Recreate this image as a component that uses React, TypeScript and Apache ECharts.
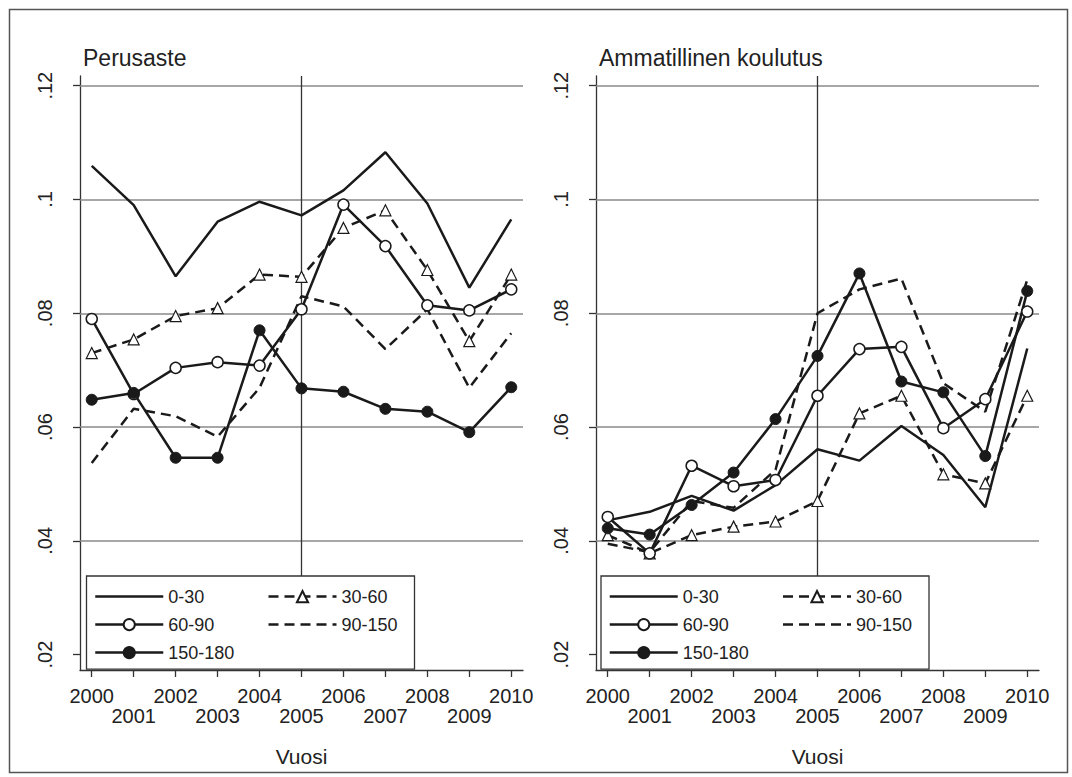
import React, { useEffect, useRef } from "react";
import * as echarts from "echarts";

const years = [2000, 2001, 2002, 2003, 2004, 2005, 2006, 2007, 2008, 2009, 2010];
const evenYears = [2000, 2002, 2004, 2006, 2008, 2010];
const oddYears = [2001, 2003, 2005, 2007, 2009];
const yTicks = [0.02, 0.04, 0.06, 0.08, 0.1, 0.12];
const gridValues = [0.04, 0.06, 0.08, 0.1, 0.12];
const markYear = 2005;

const panelTitles = ["Perusaste", "Ammatillinen koulutus"];
const seriesNames = ["0-30", "30-60", "60-90", "90-150", "150-180"];

// Perusaste
const p0_30 = [0.1059, 0.099, 0.0865, 0.0961, 0.0996, 0.0972, 0.1016, 0.1083, 0.0993, 0.0845, 0.0965];
const p30_60 = [0.073, 0.0754, 0.0795, 0.0809, 0.0868, 0.0864, 0.095, 0.0981, 0.0876, 0.0751, 0.0868];
const p60_90 = [0.079, 0.0658, 0.0704, 0.0714, 0.0708, 0.0807, 0.0991, 0.0918, 0.0814, 0.0805, 0.0842];
const p90_150 = [0.0537, 0.0632, 0.0619, 0.0583, 0.0669, 0.083, 0.0812, 0.0737, 0.0807, 0.0669, 0.0765];
const p150_180 = [0.0648, 0.066, 0.0546, 0.0546, 0.077, 0.0668, 0.0662, 0.0632, 0.0627, 0.0591, 0.067];

// Ammatillinen koulutus
const a0_30 = [0.0436, 0.0451, 0.0479, 0.0453, 0.0498, 0.0561, 0.0541, 0.0602, 0.0551, 0.0459, 0.0738];
const a30_60 = [0.041, 0.0378, 0.041, 0.0425, 0.0434, 0.047, 0.0624, 0.0655, 0.0517, 0.0501, 0.0655];
const a60_90 = [0.0442, 0.0378, 0.0532, 0.0496, 0.0507, 0.0655, 0.0737, 0.0741, 0.0598, 0.0649, 0.0803];
const a90_150 = [0.0395, 0.038, 0.047, 0.0458, 0.0525, 0.08, 0.0842, 0.0861, 0.0677, 0.0627, 0.0859];
const a150_180 = [0.0422, 0.0411, 0.0463, 0.052, 0.0614, 0.0725, 0.087, 0.068, 0.0661, 0.0549, 0.0839];

const panelData = [
  [p0_30, p30_60, p60_90, p90_150, p150_180],
  [a0_30, a30_60, a60_90, a90_150, a150_180],
];

const FONT = "'Liberation Sans', Arial, Helvetica, sans-serif";
const INK = "#1a1a1a";
const TXT = "#222";

function styleFor(i: number) {
  const dash = [10, 6];
  switch (i) {
    case 0:
      return {
        symbol: "none",
        itemStyle: { color: INK, opacity: 0 },
        lineStyle: { color: INK, width: 2.5, type: "solid", opacity: 1 },
      };
    case 1:
      return {
        symbol: "triangle",
        symbolSize: 11,
        itemStyle: { color: "#fff", borderColor: INK, borderWidth: 1.2 },
        lineStyle: { color: INK, width: 2.5, type: dash },
      };
    case 2:
      return {
        symbol: "circle",
        symbolSize: 11,
        itemStyle: { color: "#fff", borderColor: INK, borderWidth: 1.5 },
        lineStyle: { color: INK, width: 2.5, type: "solid" },
      };
    case 3:
      return {
        symbol: "none",
        itemStyle: { color: INK, opacity: 0 },
        lineStyle: { color: INK, width: 2.5, type: dash, opacity: 1 },
      };
    default:
      return {
        symbol: "circle",
        symbolSize: 11,
        itemStyle: { color: INK, borderColor: INK, borderWidth: 1 },
        lineStyle: { color: INK, width: 2.5, type: "solid" },
      };
  }
}

export default function App() {
  const ref = useRef<HTMLDivElement>(null);
  useEffect(() => {
    if (!ref.current) return;
    const chart = echarts.init(ref.current, null, { renderer: "svg" });

    const gridLefts = [80, 596];
    const legendLefts = [86.5, 601];
    const titleLefts = [83, 599];

    const grids = gridLefts.map((l) => ({ left: l, top: 76, width: 443, height: 594 }));

    const labelBase = {
      showMinLabel: true,
      showMaxLabel: true,
      hideOverlap: false,
      fontSize: 20,
      color: TXT,
      fontFamily: FONT,
    };
    const yearFmt = (v: number) => String(Math.round(v));

    const xAxes: any[] = [];
    gridLefts.forEach((_, gi) => {
      // main axis: line, ticks, even-year labels, name
      xAxes.push({
        type: "value",
        gridIndex: gi,
        position: "bottom",
        min: 1999.72,
        max: 2010.28,
        name: "Vuosi",
        nameLocation: "middle",
        nameGap: 76,
        nameTextStyle: { fontSize: 21, color: TXT, fontFamily: FONT },
        axisLine: { show: true, onZero: false, lineStyle: { color: "#333", width: 1.3 } },
        axisTick: { show: true, length: 7, customValues: years, lineStyle: { color: "#333", width: 1.3 } },
        axisLabel: { ...labelBase, customValues: evenYears, margin: 16, formatter: yearFmt },
        splitLine: { show: false },
      });
      // second row: odd-year labels
      xAxes.push({
        type: "value",
        gridIndex: gi,
        position: "bottom",
        min: 1999.72,
        max: 2010.28,
        axisLine: { show: false, onZero: false },
        axisTick: { show: false },
        axisLabel: { ...labelBase, customValues: oddYears, margin: 36, formatter: yearFmt },
        splitLine: { show: false },
      });
    });

    const yAxes = gridLefts.map((_, gi) => ({
      type: "value",
      gridIndex: gi,
      min: 0.0173,
      max: 0.1217,
      axisLine: { show: true, onZero: false, lineStyle: { color: "#333", width: 1.3 } },
      axisTick: { show: true, length: 7, customValues: yTicks, lineStyle: { color: "#333", width: 1.3 } },
      axisLabel: {
        ...labelBase,
        customValues: yTicks,
        rotate: 90,
        margin: 25,
        formatter: (v: number) => String(+v.toFixed(2)).replace(/^0/, ""),
      },
      splitLine: { show: false },
    }));

    const series: any[] = [];
    panelData.forEach((arrs, gi) => {
      arrs.forEach((arr, si) => {
        const s: any = {
          type: "line",
          name: seriesNames[si],
          xAxisIndex: gi * 2,
          yAxisIndex: gi,
          data: years.map((y, k) => [y, arr[k]]),
          z: 3,
          ...styleFor(si),
        };
        if (si === 0) {
          s.markLine = {
            silent: true,
            z: 1,
            symbol: ["none", "none"],
            label: { show: false },
            emphasis: { disabled: true },
            lineStyle: { color: "#8a8a8a", width: 1.5, type: "solid", opacity: 1 },
            data: [
              ...gridValues.map((v) => ({ yAxis: v })),
              { xAxis: markYear, lineStyle: { color: "#333", width: 1.3, type: "solid", opacity: 1 } },
            ],
          };
        }
        series.push(s);
      });
    });

    const textWidths = [89, 60, 89, 60, 89];
    const noSymbol = [true, false, false, true, false];
    const legends = legendLefts.map((l) => ({
      left: l,
      top: 576,
      orient: "horizontal",
      width: 310,
      padding: [11.6, 13, 7.5, 7.5],
      itemWidth: 68,
      itemHeight: 14,
      itemGap: 10,
      selectedMode: false,
      backgroundColor: "#fff",
      borderColor: "#333",
      borderWidth: 1.3,
      borderRadius: 0,
      lineStyle: { width: 2.5 },
      textStyle: { fontSize: 18, lineHeight: 16, color: TXT, fontFamily: FONT },
      data: seriesNames.map((n, i) => {
        const d: any = { name: n, textStyle: { width: textWidths[i] } };
        if (noSymbol[i]) d.itemStyle = { opacity: 0 };
        return d;
      }),
    }));

    const titles = panelTitles.map((t, i) => ({
      text: t,
      left: titleLefts[i],
      top: 46.5,
      padding: 0,
      textStyle: { fontSize: 23, fontWeight: "normal", color: TXT, fontFamily: FONT },
    }));

    chart.setOption({
      animation: false,
      backgroundColor: "#fff",
      title: titles,
      grid: grids,
      xAxis: xAxes,
      yAxis: yAxes,
      legend: legends,
      series,
      graphic: [
        {
          type: "rect",
          left: 7,
          top: 7,
          shape: { width: 1058, height: 763 },
          style: { fill: "none", stroke: "#555", lineWidth: 1.5 },
          silent: true,
        },
      ],
    });
    return () => chart.dispose();
  }, []);

  return <div ref={ref} style={{ position: "fixed", left: 0, top: 0, width: 1072, height: 777 }} />;
}
